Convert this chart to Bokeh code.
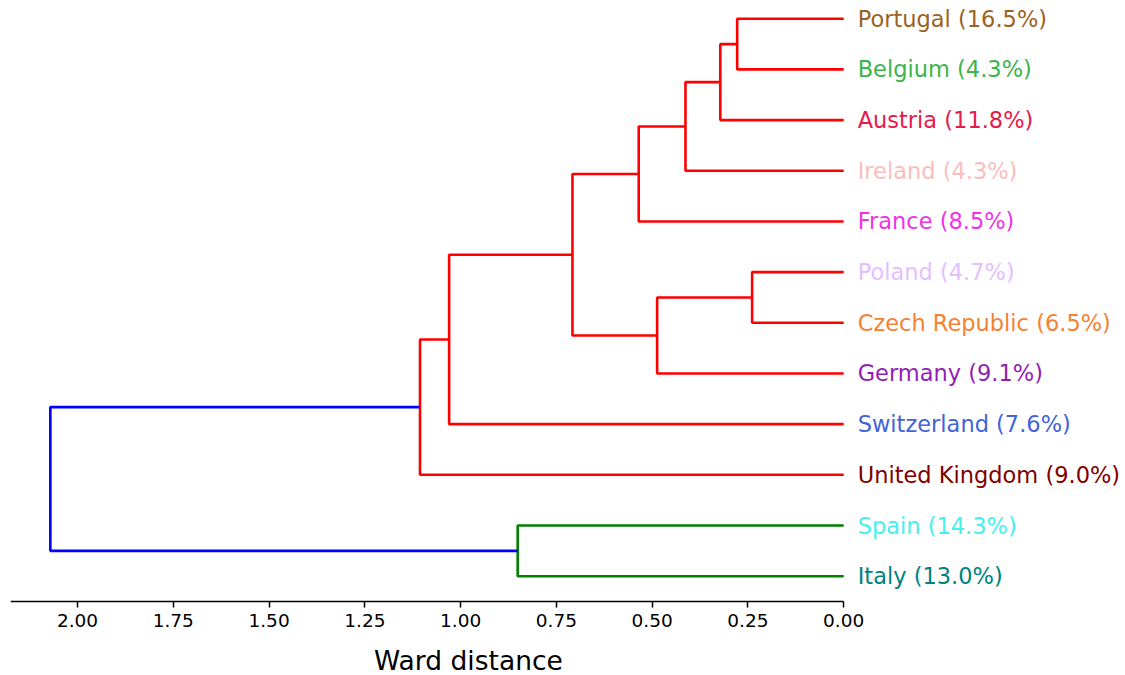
from bokeh.plotting import figure
from bokeh.models import Range1d, ColumnDataSource, FixedTicker, PrintfTickFormatter, Label
from bokeh.core.properties import value
from bokeh.embed import file_html
from bokeh.resources import INLINE

# Leaves listed bottom to top, with their share of the total
leaves = ["Italy", "Spain", "United Kingdom", "Switzerland", "Germany",
          "Czech Republic", "Poland", "France", "Ireland", "Austria",
          "Belgium", "Portugal"]
shares = [13.0, 14.3, 9.0, 7.6, 9.1, 6.5, 4.7, 8.5, 4.3, 11.8, 4.3, 16.5]
label_colors = ["#008080", "#46f0f0", "#800000", "#4363d8", "#911eb4",
                "#f58231", "#e6beff", "#f032e6", "#fabebe", "#e6194b",
                "#3cb44b", "#9a6324"]

# Ward linkage: (child a, child b, distance); new clusters numbered from 12
merges = [
    (10, 11, 0.278),
    (5, 6, 0.239),
    (9, 12, 0.322),
    (8, 14, 0.413),
    (4, 13, 0.487),
    (7, 15, 0.535),
    (16, 17, 0.708),
    (3, 18, 1.030),
    (2, 19, 1.106),
    (0, 1, 0.851),
    (21, 20, 2.071),
]
link_colors = ["red", "red", "red", "red", "red", "red", "red", "red",
               "red", "green", "blue"]
ticks = [0.0, 0.25, 0.5, 0.75, 1.0, 1.25, 1.5, 1.75, 2.0]

FONT = "DejaVu Sans"
X_MAX = 2.175

# Position of each cluster: leaves at 5, 15, 25, ...; merged = midpoint
pos = [5 + 10 * i for i in range(len(leaves))]
height = [0.0] * len(leaves)
xs, ys = [], []
for a, b, h in merges:
    xs.append([height[a], h, h, height[b]])
    ys.append([pos[a], pos[a], pos[b], pos[b]])
    pos.append((pos[a] + pos[b]) / 2)
    height.append(h)

# The frame covers the canvas (leaf names on the right, axis title below);
# the distance axis is pinned at y = 0 inside it
p = figure(width=1125, height=675, output_backend="svg", toolbar_location=None,
           x_range=Range1d(X_MAX, -0.7357), y_range=Range1d(-14.6, 118.6),
           min_border_left=10, min_border_right=0, min_border_top=0,
           min_border_bottom=0)
p.outline_line_color = None
p.grid.visible = False
p.yaxis.visible = False

p.multi_line(xs, ys, line_color=link_colors, line_width=2.6)

src = ColumnDataSource(dict(
    x=[0.0] * len(leaves),
    y=pos[:len(leaves)],
    text=[f"{n} ({s:.1f}%)" for n, s in zip(leaves, shares)],
    color=label_colors,
))
p.text(x="x", y="y", text="text", source=src, x_offset=14,
       text_color="color", text_baseline="middle", text_align="left",
       text_font=value(FONT), text_font_size="22.5px")

ax = p.xaxis[0]
ax.fixed_location = 0
ax.bounds = (0.0, X_MAX)
ax.ticker = FixedTicker(ticks=ticks)
ax.formatter = PrintfTickFormatter(format="%.2f")
ax.axis_line_width = 1.5
ax.axis_line_color = "black"
ax.major_tick_line_color = "black"
ax.major_tick_line_width = 1.5
ax.major_tick_out = 6
ax.major_tick_in = 0
ax.minor_tick_line_color = None
ax.major_label_text_font = FONT
ax.major_label_text_font_size = "18.5px"
ax.major_label_text_color = "black"
ax.major_label_standoff = 6

p.add_layout(Label(x=0.9795, y=-11.64, text="Ward distance", text_align="center",
                   text_baseline="middle", text_font=FONT,
                   text_font_size="26.5px", text_color="black"))

open("out.html", "w").write(file_html(p, INLINE))
